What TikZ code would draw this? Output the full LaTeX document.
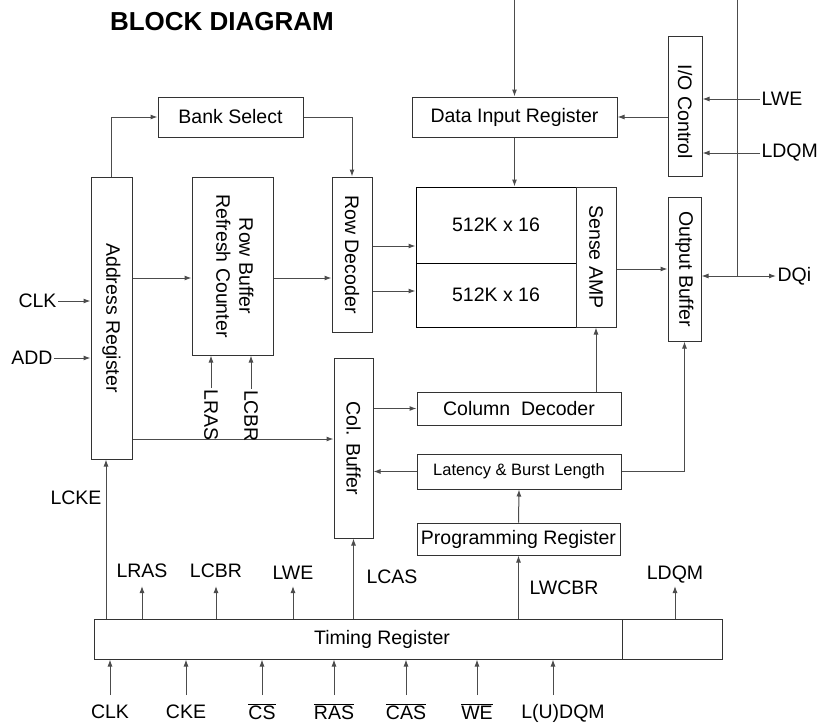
\documentclass[tikz,border=0pt]{standalone}
\usepackage{fontspec}
\setmainfont{Liberation Sans}
\usetikzlibrary{arrows.meta}

\begin{document}
\begin{tikzpicture}[x=1pt,y=-1pt,line width=1pt,>={Latex[length=7pt,width=5pt]},
  font=\fontsize{19.5}{23}\selectfont,
  block/.style={draw=black!80,inner sep=0pt},
  wire/.style={draw=black!70},
  lbl/.style={inner sep=1pt}]
\useasboundingbox (0,0) rectangle (821,724);
% title
\node[font=\bfseries\fontsize{26}{30}\selectfont] (title) at (222,22) {BLOCK DIAGRAM};
% blocks
\node[block,minimum width=145,minimum height=40] (bank) at (230.5,117) {Bank Select};
\node[block,minimum width=41,minimum height=282] (addr) at (111.5,318) {\rotatebox{-90}{Address Register}};
\node[block,minimum width=81,minimum height=178] (rbc) at (232.5,266)
  {\rotatebox{-90}{\begin{tabular}{@{}c@{}}Row Buffer\\Refresh Counter\end{tabular}}};
\node[block,minimum width=40,minimum height=155] (rowdec) at (352,254.5) {\rotatebox{-90}{Row Decoder}};
\node[block,minimum width=39,minimum height=180] (colbuf) at (353.5,448) {\rotatebox{-90}{Col. Buffer}};
\node[block,minimum width=205,minimum height=40] (dinreg) at (514.5,117) {Data Input Register};
\node[block,minimum width=34,minimum height=140] (ioctl) at (685,106) {\rotatebox{-90}{\hspace*{12pt}I/O Control}};
% memory array + sense amp
\node[block,draw=black,minimum width=160,minimum height=76] (arrA) at (496,225) {512K x 16};
\node[block,draw=black,minimum width=160,minimum height=64] (arrB) at (496,295) {512K x 16};
\node[block,minimum width=40,minimum height=140] (samp) at (596,257) {\rotatebox{-90}{Sense AMP}};
\node[block,minimum width=33,minimum height=144] (obuf) at (684.5,269) {\rotatebox{-90}{Output Buffer}};
\node[block,minimum width=204,minimum height=33] (coldec) at (519,408.5) {Column\ \ Decoder};
\node[block,minimum width=204,minimum height=35,font=\fontsize{16.5}{20}\selectfont] (latency) at (519,471.5)
  {Latency \& Burst Length};
\node[block,minimum width=203,minimum height=32] (progreg) at (518.5,539) {Programming Register};
% timing register
\node[block,minimum width=528,minimum height=40] (timing) at (358,639) {\hspace*{48pt}Timing Register};
\node[block,minimum width=100,minimum height=40] (tdqm) at (672,639) {};
% levels
\coordinate (yrow) at (0,278);
\coordinate (yup) at (0,246);
\coordinate (ydn) at (0,291);
\coordinate (ycol) at (0,439);
\coordinate (yout) at (0,586);
\coordinate (ybot) at (0,695);
\coordinate (xcke) at (106,0);
\coordinate (dqtop) at (737,0);
\coordinate (dintop) at (514.5,0);
% row path
\draw[wire,->] (addr.north) |- (bank.west);
\draw[wire,->] (bank.east) -| (rowdec.north);
\draw[wire,->] (addr.east |- yrow) -- (rbc.west |- yrow);
\draw[wire,->] (rbc.east |- yrow) -- (rowdec.west |- yrow);
\draw[wire,->] (rowdec.east |- yup) -- (arrA.west |- yup);
\draw[wire,->] (rowdec.east |- ydn) -- (arrB.west |- ydn);
% column path
\draw[wire,->] (addr.east |- ycol) -- (colbuf.west |- ycol);
\draw[wire,->] (colbuf.east |- coldec.west) -- (coldec.west);
\draw[wire,->] (latency.west) -- (latency.west -| colbuf.east);
\draw[wire,->] (latency.east) -| (obuf.south);
\draw[wire,->] (samp.south |- coldec.north) -- (samp.south);
\draw[wire,->] (progreg.north) -- (latency.south);
% data path
\draw[wire,->] (samp.east |- obuf.west) -- (obuf.west);
\draw[wire,->] (dintop) -- (dinreg.north);
\draw[wire,->] (dinreg.south) -- (dinreg.south |- arrA.north);
\draw[wire,->] (ioctl.west |- dinreg.east) -- (dinreg.east);
\node[lbl,anchor=west] (dqi) at (776,276) {DQi};
\draw[wire,<->] (obuf.east |- dqi.west) -- (dqi.west);
\draw[wire] (dqtop) -- (dqtop |- dqi.west);
\node[lbl,anchor=west] (lweR) at (760,99) {LWE};
\node[lbl,anchor=west] (ldqmR) at (760,153) {LDQM};
\draw[wire,->] (lweR.west) -- (ioctl.east |- lweR.west);
\draw[wire,->] (ldqmR.west) -- (ioctl.east |- ldqmR.west);
% address inputs
\node[lbl,anchor=east] (clkA) at (58,301) {CLK};
\node[lbl,anchor=east] (addA) at (54,358) {ADD};
\draw[wire,->] (clkA.east) -- (addr.west |- clkA.east);
\draw[wire,->] (addA.east) -- (addr.west |- addA.east);
\node[lbl] (lrasV) at (211,415) {\rotatebox{-90}{LRAS}};
\node[lbl] (lcbrV) at (251,416) {\rotatebox{-90}{LCBR}};
\draw[wire,->] (lrasV.north) -- (lrasV.north |- rbc.south);
\draw[wire,->] (lcbrV.north) -- (lcbrV.north |- rbc.south);
% timing register outputs
\node[lbl,anchor=base east] (lcke) at (103,504) {LCKE};
\draw[wire,->] (timing.north -| xcke) -- (addr.south -| xcke);
\node[lbl,anchor=base] (lrasT) at (142,577) {LRAS};
\node[lbl,anchor=base] (lcbrT) at (216,577) {LCBR};
\node[lbl,anchor=base] (lweT) at (293,579) {LWE};
\node[lbl,anchor=base] (ldqmT) at (675,579) {LDQM};
\draw[wire,->] (timing.north -| lrasT) -- (lrasT |- yout);
\draw[wire,->] (timing.north -| lcbrT) -- (lcbrT |- yout);
\draw[wire,->] (timing.north -| lweT) -- (lweT |- yout);
\draw[wire,->] (tdqm.north -| ldqmT) -- (ldqmT |- yout);
\draw[wire,->] (timing.north -| colbuf.south) -- (colbuf.south);
\node[lbl,anchor=base west] (lcas) at (365,583) {LCAS};
\draw[wire,->] (timing.north -| progreg.south) -- (progreg.south);
\node[lbl,anchor=base west] (lwcbr) at (528,594) {LWCBR};
% timing register inputs
\node[lbl,anchor=base] (inCLK) at (110,718) {CLK};
\node[lbl,anchor=base] (inCKE) at (186,718) {CKE};
\node[lbl,anchor=base] (inCS) at (262,719) {$\overline{\mbox{CS}}$};
\node[lbl,anchor=base] (inRAS) at (334,719) {$\overline{\mbox{RAS}}$};
\node[lbl,anchor=base] (inCAS) at (406,719) {$\overline{\mbox{CAS}}$};
\node[lbl,anchor=base] (inWE) at (477,719) {$\overline{\mbox{WE}}$};
\node[lbl,anchor=base] (inDQM) at (563,718) {L(U)DQM};
\foreach \s in {inCLK,inCKE,inCS,inRAS,inCAS,inWE}
  \draw[wire,->] (\s |- ybot) -- (\s |- timing.south);
\draw[wire,->] ([xshift=-10pt]inDQM.north |- ybot) -- ([xshift=-10pt]inDQM.north |- timing.south);
\end{tikzpicture}
\end{document}
